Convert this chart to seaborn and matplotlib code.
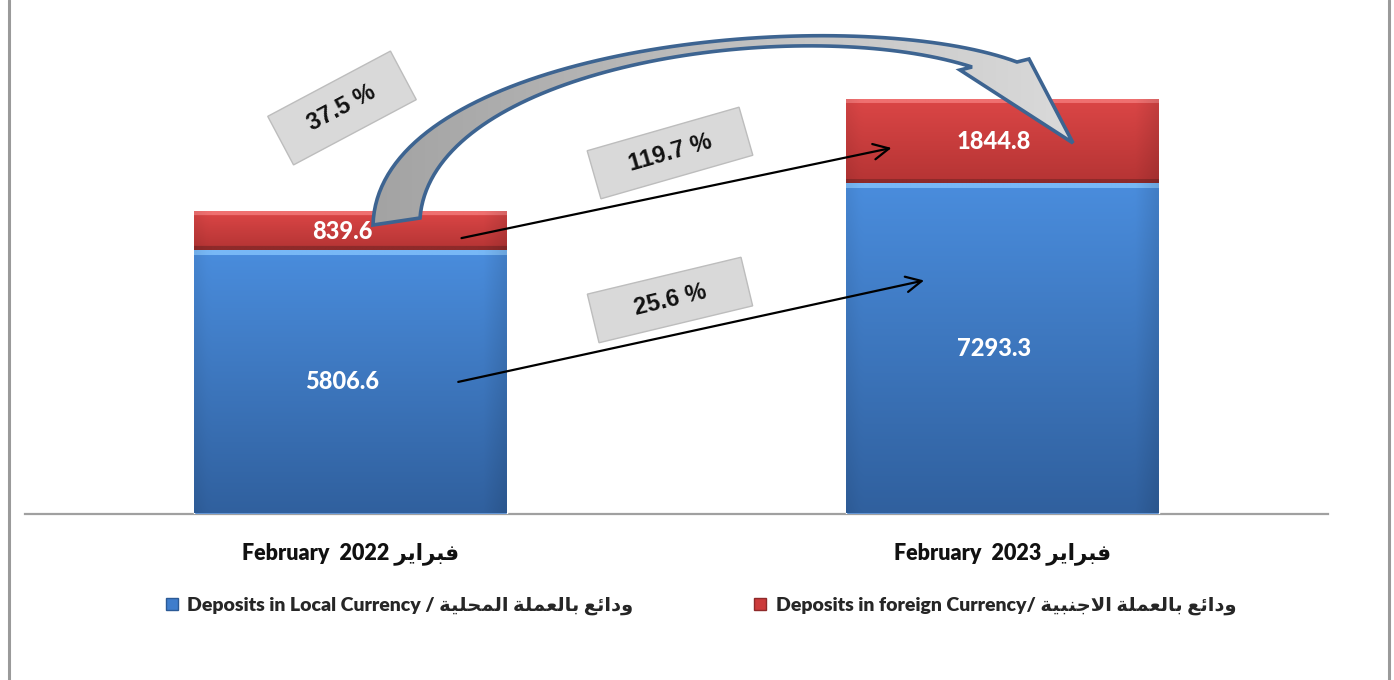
import numpy as np
import pandas as pd
import matplotlib
matplotlib.use("Agg")
import matplotlib.pyplot as plt
import seaborn as sns
from matplotlib.colors import to_rgb
from matplotlib.lines import Line2D
from matplotlib.patches import Rectangle, PathPatch
from matplotlib.path import Path
from matplotlib.transforms import Affine2D

# ---------------------------------------------------------------- data
period_en = ["February", "February"]
period_year = [2022, 2023]
period_ar = ["فبراير", "فبراير"]
local_deposits = [5806.6, 7293.3]
foreign_deposits = [839.6, 1844.8]
local_name_en = "Deposits in Local Currency / "
local_name_ar = "ودائع بالعملة المحلية"
foreign_name_en = "Deposits in foreign Currency/ "
foreign_name_ar = "ودائع بالعملة الاجنبية"
growth_total = "37.5 %"
growth_foreign = "119.7 %"
growth_local = "25.6 %"

# ---------------------------------------------------------------- arabic shaping
# matplotlib has no bidi/shaping engine, so letters are mapped to their
# contextual presentation forms and put in visual (left-to-right) order.
AR_FORMS = {
    "\u0627": (0xFE8D, 0xFE8E, None, None),      # alef
    "\u0628": (0xFE8F, 0xFE90, 0xFE91, 0xFE92),  # beh
    "\u0629": (0xFE93, 0xFE94, None, None),      # teh marbuta
    "\u062C": (0xFE9D, 0xFE9E, 0xFE9F, 0xFEA0),  # jeem
    "\u062D": (0xFEA1, 0xFEA2, 0xFEA3, 0xFEA4),  # hah
    "\u062F": (0xFEA9, 0xFEAA, None, None),      # dal
    "\u0631": (0xFEAD, 0xFEAE, None, None),      # reh
    "\u0639": (0xFEC9, 0xFECA, 0xFECB, 0xFECC),  # ain
    "\u0641": (0xFED1, 0xFED2, 0xFED3, 0xFED4),  # feh
    "\u0644": (0xFEDD, 0xFEDE, 0xFEDF, 0xFEE0),  # lam
    "\u0645": (0xFEE1, 0xFEE2, 0xFEE3, 0xFEE4),  # meem
    "\u0646": (0xFEE5, 0xFEE6, 0xFEE7, 0xFEE8),  # noon
    "\u0648": (0xFEED, 0xFEEE, None, None),      # waw
    "\u064A": (0xFEF1, 0xFEF2, 0xFEF3, 0xFEF4),  # yeh
    "\u0626": (0xFE89, 0xFE8A, 0xFE8B, 0xFE8C),  # yeh with hamza above
}
LAM_ALEF = (0xFEFB, 0xFEFC)


def shape_arabic(text):
    out = []
    prev_joins = False
    i, n = 0, len(text)
    while i < n:
        c = text[i]
        if c not in AR_FORMS:
            out.append(c)
            prev_joins = False
            i += 1
            continue
        if c == "\u0644" and i + 1 < n and text[i + 1] == "\u0627":
            out.append(chr(LAM_ALEF[1] if prev_joins else LAM_ALEF[0]))
            prev_joins = False
            i += 2
            continue
        nxt = text[i + 1] if i + 1 < n else None
        iso, fin, ini, med = AR_FORMS[c]
        link_next = ini is not None and nxt in AR_FORMS
        if prev_joins and link_next:
            g = med
        elif prev_joins:
            g = fin
        elif link_next:
            g = ini
        else:
            g = iso
        out.append(chr(g))
        prev_joins = link_next
        i += 1
    return "".join(reversed(out))


# ---------------------------------------------------------------- style
sns.set_theme(style="white")
FAMILY = ["Lato", "DejaVu Sans"]
plt.rcParams["font.family"] = FAMILY
plt.rcParams["font.weight"] = "bold"

BLUE = "#3f7dcc"
RED = "#cc3b3b"

labels = [f"{en}  {yr} {shape_arabic(ar)}" for en, yr, ar in zip(period_en, period_year, period_ar)]
df = pd.DataFrame({
    "period": labels,
    "local": local_deposits,
    "foreign": foreign_deposits,
})
df["total"] = df["local"] + df["foreign"]

W, H = 1394, 680
fig = plt.figure(figsize=(W / 100, H / 100), dpi=100)
ax = fig.add_axes([25 / W, (H - 513.5) / H, 1303 / W, 513.5 / H])

BAR_W = 0.48
sns.barplot(data=df, x="period", y="total", color=RED, width=BAR_W,
            saturation=1, ax=ax, zorder=2)
sns.barplot(data=df, x="period", y="local", color=BLUE, width=BAR_W,
            saturation=1, ax=ax, zorder=3)

ax.set_xlim(-0.5, 1.5)
ax.set_ylim(0, 11330)
ax.set_xlabel("")
ax.set_ylabel("")
ax.set_yticks([])
for s in ("left", "right", "top"):
    ax.spines[s].set_visible(False)
ax.spines["bottom"].set_color("#a0a0a0")
ax.spines["bottom"].set_linewidth(1.6)
ax.tick_params(axis="x", length=0, pad=21)
for t in ax.get_xticklabels():
    t.set_fontsize(15.5)
    t.set_fontweight("heavy")
    t.set_color("#111111")

# ---------------------------------------------------------------- bevel shading
px_per_unit = ax.transData.transform((0, 1))[1] - ax.transData.transform((0, 0))[1]


def shade_segment(x0, width, y0, y1, top_c, bot_c, hi_c, lo_c, hi_px, lo_px, z):
    rows = max(int(round((y1 - y0) * px_per_unit)), 2)
    t = np.linspace(0, 1, rows)[:, None]
    top, bot = np.array(to_rgb(top_c)), np.array(to_rgb(bot_c))
    col = top * (1 - t) + bot * t
    col = col[:, None, :].repeat(60, axis=1)
    col[:hi_px] = to_rgb(hi_c)
    if lo_px:
        col[-lo_px:] = to_rgb(lo_c)
    # slight darkening toward the side edges
    h = np.linspace(0, 1, 60)
    side = 1 - 0.10 * np.clip((h - 0.93) / 0.07, 0, 1) - 0.05 * np.clip((0.04 - h) / 0.04, 0, 1)
    col = col * side[None, :, None]
    ax.imshow(np.clip(col, 0, 1), extent=(x0, x0 + width, y0, y1), origin="upper",
              aspect="auto", interpolation="bilinear", zorder=z)


red_bars, blue_bars = ax.containers[0], ax.containers[1]
for rb, bb in zip(red_bars, blue_bars):
    x0, w = bb.get_x(), bb.get_width()
    y_local = bb.get_height()
    y_total = rb.get_height()
    shade_segment(x0, w, 0, y_local, "#4a8ddd", "#30609e", "#78b8f6", None, 6, 0, 4)
    shade_segment(x0, w, y_local, y_total, "#db4646", "#b53434", "#ef7070", "#8e2a2a", 4, 4, 4)
ax.set_xlim(-0.5, 1.5)
ax.set_ylim(0, 11330)

# ---------------------------------------------------------------- value labels
LABEL_DX = -0.013
for i, (loc, fx) in enumerate(zip(local_deposits, foreign_deposits)):
    ax.text(i + LABEL_DX, loc / 2, f"{loc:.1f}", ha="center", va="center", color="white",
            fontsize=17, fontweight="black", zorder=6)
    ax.text(i + LABEL_DX, loc + fx / 2, f"{fx:.1f}", ha="center", va="center", color="white",
            fontsize=17, fontweight="black", zorder=6)

# ---------------------------------------------------------------- growth arrows
mid_foreign = [l + f / 2 for l, f in zip(local_deposits, foreign_deposits)]
arrow_kw = dict(arrowstyle="->", color="black", lw=1.6, mutation_scale=28,
                shrinkA=0, shrinkB=0)
ax.annotate("", xy=(0.83, mid_foreign[1] - 150), xytext=(0.17, mid_foreign[0] - 150),
            arrowprops=arrow_kw, zorder=7)
ax.annotate("", xy=(0.88, local_deposits[1] * 0.705), xytext=(0.165, local_deposits[0] / 2),
            arrowprops=arrow_kw, zorder=7)

# pixel space of the figure (origin bottom-left)
pix = Affine2D().scale(1 / 100) + fig.dpi_scale_trans


def tag(cx, cy, w, h, angle, text, size):
    fig.add_artist(Rectangle((cx - w / 2, cy - h / 2), w, h, angle=angle,
                             rotation_point="center", transform=pix,
                             facecolor="#d9d9d9", edgecolor="#bdbdbd", lw=1.0, zorder=8))
    fig.text(cx, cy, text, transform=pix, ha="center", va="center", rotation=angle,
             rotation_mode="anchor", fontsize=size, fontweight="bold",
             family=["Liberation Sans Narrow", "Liberation Sans", "DejaVu Sans"],
             color="#111111", zorder=9)


tag(342, H - 108, 139, 55, 28, growth_total, 17)
tag(670, H - 153, 158, 50, 16, growth_foreign, 17)
tag(670, H - 300, 158, 50, 13.5, growth_local, 17)

# ---------------------------------------------------------------- curved block arrow
def bez(p0, p1, p2, p3, n=80):
    t = np.linspace(0, 1, n)[:, None]
    p0, p1, p2, p3 = map(np.array, (p0, p1, p2, p3))
    return ((1 - t) ** 3) * p0 + 3 * ((1 - t) ** 2) * t * p1 + 3 * (1 - t) * t ** 2 * p2 + t ** 3 * p3


def up(p):
    return (p[0], H - p[1])


outer = bez(up((373, 225)), up((378, 45)), up((850, 0)), up((1017, 62)))
inner = bez(up((420, 218)), up((432, 65)), up((800, 12)), up((972, 67)))
head = np.array([up((1029, 59)), up((1073, 143)), up((960, 70))])
verts = np.vstack([outer, head, inner[::-1], outer[:1]])
codes = [Path.MOVETO] + [Path.LINETO] * (len(verts) - 2) + [Path.CLOSEPOLY]

grad = np.linspace(0, 1, 256)[None, :, None]
gimg = np.array(to_rgb("#a3a3a3")) * (1 - grad) + np.array(to_rgb("#dadada")) * grad
xs, ys = verts[:, 0], verts[:, 1]
fill_ax = fig.add_axes([0, 0, 1, 1], zorder=5)
fill_ax.set_xlim(0, W)
fill_ax.set_ylim(0, H)
fill_ax.axis("off")
fill_ax.patch.set_alpha(0)
fill_patch = PathPatch(Path(verts, codes), facecolor="none", edgecolor="none")
fill_ax.add_patch(fill_patch)
im = fill_ax.imshow(gimg, extent=(xs.min(), xs.max(), ys.min(), ys.max()),
                    aspect="auto", zorder=1)
im.set_clip_path(fill_patch)
fill_ax.add_patch(PathPatch(Path(verts, codes), facecolor="none",
                            edgecolor="#3d6491", lw=2.6, zorder=2, joinstyle="miter"))

# ---------------------------------------------------------------- legend
handles = [
    Line2D([], [], marker="s", linestyle="none", markersize=8,
           markerfacecolor="#3f7dcc", markeredgecolor="#2b5a96"),
    Line2D([], [], marker="s", linestyle="none", markersize=8,
           markerfacecolor="#cc3b3b", markeredgecolor="#8e2a2a"),
]
leg_labels = [local_name_en + shape_arabic(local_name_ar),
              foreign_name_en + shape_arabic(foreign_name_ar)]
fig.legend(handles, leg_labels, loc="center", bbox_to_anchor=(0.5015, 1 - 606 / H),
           ncol=2, frameon=False, columnspacing=6.0, handletextpad=0.3,
           handlelength=1.0, prop={"family": FAMILY, "weight": "heavy", "size": 14})

# ---------------------------------------------------------------- outer frame
for xf in (8.5 / W, 1388.5 / W):
    fig.add_artist(Line2D([xf, xf], [0, 1], color="#9a9a9a", lw=2.2, transform=fig.transFigure))

fig.savefig("out.png", dpi=100)
